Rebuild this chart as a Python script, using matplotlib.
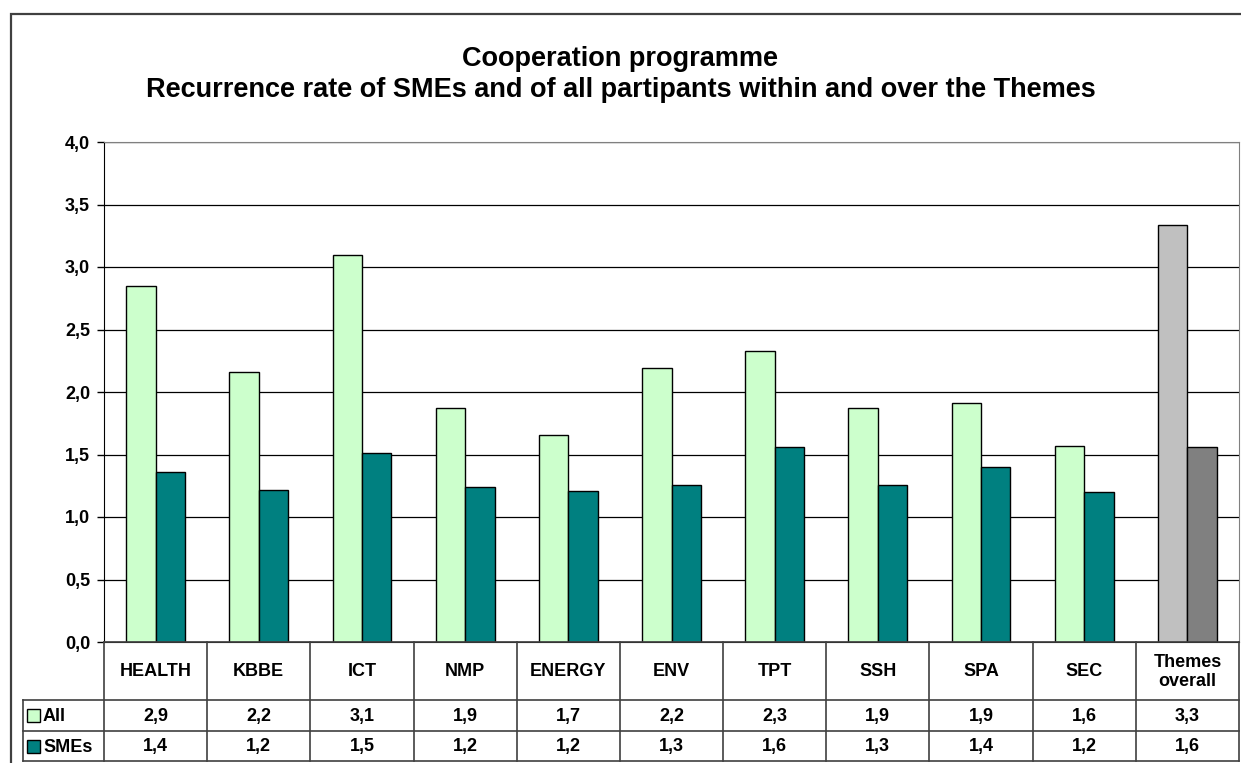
import matplotlib
matplotlib.use('Agg')
import matplotlib.pyplot as plt
from matplotlib.patches import Rectangle
import numpy as np

plt.rcParams['font.family'] = ['Liberation Sans', 'DejaVu Sans']

# ── Data ──────────────────────────────────────────────────────────────────────
categories = ['HEALTH', 'KBBE', 'ICT', 'NMP', 'ENERGY', 'ENV', 'TPT', 'SSH',
              'SPA', 'SEC', 'Themes\noverall']
all_vals  = [2.85, 2.16, 3.10, 1.87, 1.66, 2.19, 2.33, 1.87, 1.91, 1.57, 3.34]
sme_vals  = [1.36, 1.22, 1.51, 1.24, 1.21, 1.26, 1.56, 1.26, 1.40, 1.20, 1.56]
all_labels = ['2,9', '2,2', '3,1', '1,9', '1,7', '2,2', '2,3', '1,9', '1,9', '1,6', '3,3']
sme_labels = ['1,4', '1,2', '1,5', '1,2', '1,2', '1,3', '1,6', '1,3', '1,4', '1,2', '1,6']
yticks = [0.0, 0.5, 1.0, 1.5, 2.0, 2.5, 3.0, 3.5, 4.0]

ALL_COLOR  = '#CCFFCC'
SME_COLOR  = '#008080'
ALL_TOTAL  = '#C0C0C0'
SME_TOTAL  = '#808080'
LINE_COL   = '#404040'
FS = 13

W, H = 1241, 763
fig = plt.figure(figsize=(W / 100, H / 100), dpi=100)
fig.patch.set_facecolor('white')

# outer chart border
fig.patches.append(Rectangle((11 / W, -0.05), 1.1, 1 - 14 / H + 0.05,
                             transform=fig.transFigure, fill=False,
                             edgecolor=LINE_COL, linewidth=1.6, zorder=0))

# ── Title ─────────────────────────────────────────────────────────────────────
fig.text(0.5, 1 - 66 / H, 'Cooperation programme', ha='center', va='baseline',
         fontsize=19.5, fontweight='bold')
fig.text(0.5, 1 - 97 / H,
         'Recurrence rate of SMEs and of all partipants within and over the Themes',
         ha='center', va='baseline', fontsize=19.5, fontweight='bold')

# ── Bar plot ──────────────────────────────────────────────────────────────────
px0, px1, py0, py1 = 104, 1239, 142, 642
ax = fig.add_axes([px0 / W, 1 - py1 / H, (px1 - px0) / W, (py1 - py0) / H])
x = np.arange(len(categories))
bw = 0.285
c_all = [ALL_COLOR] * (len(categories) - 1) + [ALL_TOTAL]
c_sme = [SME_COLOR] * (len(categories) - 1) + [SME_TOTAL]
ax.bar(x - bw / 2, all_vals, bw, color=c_all, edgecolor='black', linewidth=1, zorder=3)
ax.bar(x + bw / 2, sme_vals, bw, color=c_sme, edgecolor='black', linewidth=1, zorder=3)

ax.set_xlim(-0.5, len(categories) - 0.5)
ax.set_ylim(0, 4)
ax.set_yticks(yticks)
ax.set_yticklabels([f'{t:.1f}'.replace('.', ',') for t in yticks],
                   fontsize=FS, fontweight='bold')
ax.tick_params(axis='y', length=5, width=1, pad=5)
ax.set_xticks([])
ax.grid(axis='y', color='black', linewidth=0.9, zorder=0)
for s in ['top', 'right']:
    ax.spines[s].set_color('#808080')
ax.spines['left'].set_color('black')
ax.spines['bottom'].set_color('black')

# ── Data table ────────────────────────────────────────────────────────────────
ty0, ty1 = 642, 762
tab = fig.add_axes([px0 / W, 1 - ty1 / H, (px1 - px0) / W, (ty1 - ty0) / H])
tab.set_xlim(-0.5, len(categories) - 0.5)
tab.set_ylim(ty1 - ty0, 0)
tab.axis('off')

row_y = [0, 58, 89, 119]
cw = (px1 - px0) / len(categories)
left_x = -0.5 - (px0 - 23) / cw

kw = dict(color=LINE_COL, linewidth=1.2, clip_on=False)
# horizontal lines
tab.plot([-0.5, len(categories) - 0.5], [row_y[0]] * 2, **kw)
for ry in row_y[1:]:
    tab.plot([left_x, len(categories) - 0.5], [ry] * 2, **kw)
# vertical lines
for i in range(len(categories) + 1):
    tab.plot([i - 0.5] * 2, [row_y[0], row_y[3]], **kw)
tab.plot([left_x] * 2, [row_y[1], row_y[3]], **kw)

for i, cat in enumerate(categories):
    tab.text(i, (row_y[0] + row_y[1]) / 2 + 1, cat, ha='center', va='center',
             fontsize=FS, fontweight='bold', linespacing=1.15)
    tab.text(i, (row_y[1] + row_y[2]) / 2 + 1, all_labels[i], ha='center',
             va='center', fontsize=FS, fontweight='bold')
    tab.text(i, (row_y[2] + row_y[3]) / 2 + 1, sme_labels[i], ha='center',
             va='center', fontsize=FS, fontweight='bold')

# legend keys inside the table
sq_w = 13 / cw
for (r0, r1), lbl, col in [((row_y[1], row_y[2]), 'All', ALL_COLOR),
                           ((row_y[2], row_y[3]), 'SMEs', SME_COLOR)]:
    cy = (r0 + r1) / 2
    tab.add_patch(Rectangle((left_x + 4 / cw, cy - 6.5), sq_w, 13,
                            facecolor=col, edgecolor='black', linewidth=1,
                            clip_on=False))
    tab.text(left_x + 20 / cw, cy + 1, lbl, ha='left', va='center',
             fontsize=FS, fontweight='bold')

plt.savefig('out.png', dpi=100, facecolor='white')
